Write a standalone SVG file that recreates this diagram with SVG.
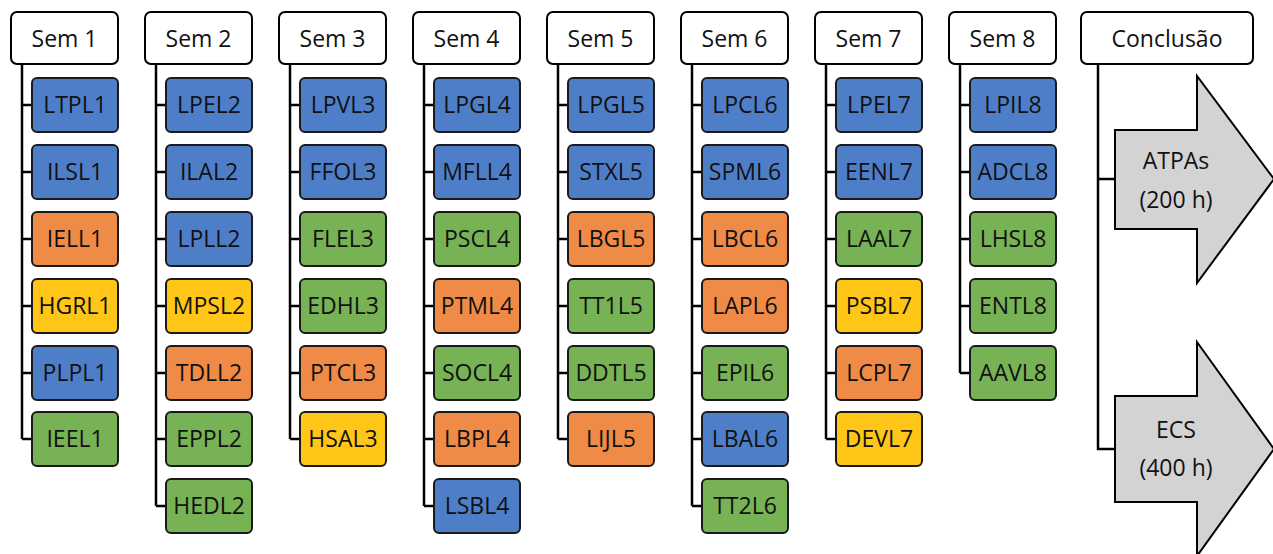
<svg xmlns="http://www.w3.org/2000/svg" width="1273" height="554" viewBox="0 0 1273 554">
<style>
.h{fill:#fff;stroke:#000;stroke-width:2}
.n{stroke:#1a1a1a;stroke-width:2}
.B{fill:#4F7EC9}.O{fill:#EF8A47}.G{fill:#77B255}.Y{fill:#FFC617}
.c{fill:none;stroke:#000;stroke-width:2.5}
.ar{fill:#D3D3D3;stroke:#000;stroke-width:2}
text{font-family:"Open Sans","Liberation Sans",sans-serif;font-size:23px;fill:#111;text-anchor:middle}
</style>
<rect width="1273" height="554" fill="#fff"/>
<g id="connectors">
<path class="c" d="M22 64V439M22 105H32M22 172H32M22 239H32M22 306H32M22 373H32M22 439H32"/>
<path class="c" d="M156 64V506M156 105H166M156 172H166M156 239H166M156 306H166M156 373H166M156 439H166M156 506H166"/>
<path class="c" d="M290 64V439M290 105H300M290 172H300M290 239H300M290 306H300M290 373H300M290 439H300"/>
<path class="c" d="M424 64V506M424 105H434M424 172H434M424 239H434M424 306H434M424 373H434M424 439H434M424 506H434"/>
<path class="c" d="M558 64V439M558 105H568M558 172H568M558 239H568M558 306H568M558 373H568M558 439H568"/>
<path class="c" d="M692 64V506M692 105H702M692 172H702M692 239H702M692 306H702M692 373H702M692 439H702M692 506H702"/>
<path class="c" d="M826 64V439M826 105H836M826 172H836M826 239H836M826 306H836M826 373H836M826 439H836"/>
<path class="c" d="M960 64V373M960 105H970M960 172H970M960 239H970M960 306H970M960 373H970"/>
<path class="c" d="M1098 64V449H1115M1098 179H1115"/>
</g>
<g id="sem1">
<rect class="h" x="11" y="12" width="107" height="52" rx="6"/><text x="64.5" y="47">Sem 1</text>
<rect class="n B" x="32" y="78" width="86" height="54" rx="5"/><text x="75" y="113">LTPL1</text>
<rect class="n B" x="32" y="145" width="86" height="54" rx="5"/><text x="75" y="180">ILSL1</text>
<rect class="n O" x="32" y="212" width="86" height="54" rx="5"/><text x="75" y="247">IELL1</text>
<rect class="n Y" x="32" y="279" width="86" height="54" rx="5"/><text x="75" y="314">HGRL1</text>
<rect class="n B" x="32" y="346" width="86" height="54" rx="5"/><text x="75" y="381">PLPL1</text>
<rect class="n G" x="32" y="412" width="86" height="54" rx="5"/><text x="75" y="447">IEEL1</text>
</g>
<g id="sem2">
<rect class="h" x="145" y="12" width="107" height="52" rx="6"/><text x="198.5" y="47">Sem 2</text>
<rect class="n B" x="166" y="78" width="86" height="54" rx="5"/><text x="209" y="113">LPEL2</text>
<rect class="n B" x="166" y="145" width="86" height="54" rx="5"/><text x="209" y="180">ILAL2</text>
<rect class="n B" x="166" y="212" width="86" height="54" rx="5"/><text x="209" y="247">LPLL2</text>
<rect class="n Y" x="166" y="279" width="86" height="54" rx="5"/><text x="209" y="314">MPSL2</text>
<rect class="n O" x="166" y="346" width="86" height="54" rx="5"/><text x="209" y="381">TDLL2</text>
<rect class="n G" x="166" y="412" width="86" height="54" rx="5"/><text x="209" y="447">EPPL2</text>
<rect class="n G" x="166" y="479" width="86" height="54" rx="5"/><text x="209" y="514">HEDL2</text>
</g>
<g id="sem3">
<rect class="h" x="279" y="12" width="107" height="52" rx="6"/><text x="332.5" y="47">Sem 3</text>
<rect class="n B" x="300" y="78" width="86" height="54" rx="5"/><text x="343" y="113">LPVL3</text>
<rect class="n B" x="300" y="145" width="86" height="54" rx="5"/><text x="343" y="180">FFOL3</text>
<rect class="n G" x="300" y="212" width="86" height="54" rx="5"/><text x="343" y="247">FLEL3</text>
<rect class="n G" x="300" y="279" width="86" height="54" rx="5"/><text x="343" y="314">EDHL3</text>
<rect class="n O" x="300" y="346" width="86" height="54" rx="5"/><text x="343" y="381">PTCL3</text>
<rect class="n Y" x="300" y="412" width="86" height="54" rx="5"/><text x="343" y="447">HSAL3</text>
</g>
<g id="sem4">
<rect class="h" x="413" y="12" width="107" height="52" rx="6"/><text x="466.5" y="47">Sem 4</text>
<rect class="n B" x="434" y="78" width="86" height="54" rx="5"/><text x="477" y="113">LPGL4</text>
<rect class="n B" x="434" y="145" width="86" height="54" rx="5"/><text x="477" y="180">MFLL4</text>
<rect class="n G" x="434" y="212" width="86" height="54" rx="5"/><text x="477" y="247">PSCL4</text>
<rect class="n O" x="434" y="279" width="86" height="54" rx="5"/><text x="477" y="314">PTML4</text>
<rect class="n G" x="434" y="346" width="86" height="54" rx="5"/><text x="477" y="381">SOCL4</text>
<rect class="n O" x="434" y="412" width="86" height="54" rx="5"/><text x="477" y="447">LBPL4</text>
<rect class="n B" x="434" y="479" width="86" height="54" rx="5"/><text x="477" y="514">LSBL4</text>
</g>
<g id="sem5">
<rect class="h" x="547" y="12" width="107" height="52" rx="6"/><text x="600.5" y="47">Sem 5</text>
<rect class="n B" x="568" y="78" width="86" height="54" rx="5"/><text x="611" y="113">LPGL5</text>
<rect class="n B" x="568" y="145" width="86" height="54" rx="5"/><text x="611" y="180">STXL5</text>
<rect class="n O" x="568" y="212" width="86" height="54" rx="5"/><text x="611" y="247">LBGL5</text>
<rect class="n G" x="568" y="279" width="86" height="54" rx="5"/><text x="611" y="314">TT1L5</text>
<rect class="n G" x="568" y="346" width="86" height="54" rx="5"/><text x="611" y="381">DDTL5</text>
<rect class="n O" x="568" y="412" width="86" height="54" rx="5"/><text x="611" y="447">LIJL5</text>
</g>
<g id="sem6">
<rect class="h" x="681" y="12" width="107" height="52" rx="6"/><text x="734.5" y="47">Sem 6</text>
<rect class="n B" x="702" y="78" width="86" height="54" rx="5"/><text x="745" y="113">LPCL6</text>
<rect class="n B" x="702" y="145" width="86" height="54" rx="5"/><text x="745" y="180">SPML6</text>
<rect class="n O" x="702" y="212" width="86" height="54" rx="5"/><text x="745" y="247">LBCL6</text>
<rect class="n O" x="702" y="279" width="86" height="54" rx="5"/><text x="745" y="314">LAPL6</text>
<rect class="n G" x="702" y="346" width="86" height="54" rx="5"/><text x="745" y="381">EPIL6</text>
<rect class="n B" x="702" y="412" width="86" height="54" rx="5"/><text x="745" y="447">LBAL6</text>
<rect class="n G" x="702" y="479" width="86" height="54" rx="5"/><text x="745" y="514">TT2L6</text>
</g>
<g id="sem7">
<rect class="h" x="815" y="12" width="107" height="52" rx="6"/><text x="868.5" y="47">Sem 7</text>
<rect class="n B" x="836" y="78" width="86" height="54" rx="5"/><text x="879" y="113">LPEL7</text>
<rect class="n B" x="836" y="145" width="86" height="54" rx="5"/><text x="879" y="180">EENL7</text>
<rect class="n G" x="836" y="212" width="86" height="54" rx="5"/><text x="879" y="247">LAAL7</text>
<rect class="n Y" x="836" y="279" width="86" height="54" rx="5"/><text x="879" y="314">PSBL7</text>
<rect class="n O" x="836" y="346" width="86" height="54" rx="5"/><text x="879" y="381">LCPL7</text>
<rect class="n Y" x="836" y="412" width="86" height="54" rx="5"/><text x="879" y="447">DEVL7</text>
</g>
<g id="sem8">
<rect class="h" x="949" y="12" width="107" height="52" rx="6"/><text x="1002.5" y="47">Sem 8</text>
<rect class="n B" x="970" y="78" width="86" height="54" rx="5"/><text x="1013" y="113">LPIL8</text>
<rect class="n B" x="970" y="145" width="86" height="54" rx="5"/><text x="1013" y="180">ADCL8</text>
<rect class="n G" x="970" y="212" width="86" height="54" rx="5"/><text x="1013" y="247">LHSL8</text>
<rect class="n G" x="970" y="279" width="86" height="54" rx="5"/><text x="1013" y="314">ENTL8</text>
<rect class="n G" x="970" y="346" width="86" height="54" rx="5"/><text x="1013" y="381">AAVL8</text>
</g>
<g id="conclusao">
<rect class="h" x="1081" y="12" width="172" height="52" rx="6"/><text x="1167" y="47">Conclusão</text>
</g>
<g id="atpas">
<path class="ar" d="M1115 130H1197V76L1274 179L1197 283V229H1115Z"/>
<text x="1176" y="169">ATPAs</text><text x="1176" y="208">(200 h)</text>
</g>
<g id="ecs">
<path class="ar" d="M1115 396H1197V342L1274 449L1197 556V502H1115Z"/>
<text x="1176" y="438">ECS</text><text x="1176" y="476">(400 h)</text>
</g>
</svg>
